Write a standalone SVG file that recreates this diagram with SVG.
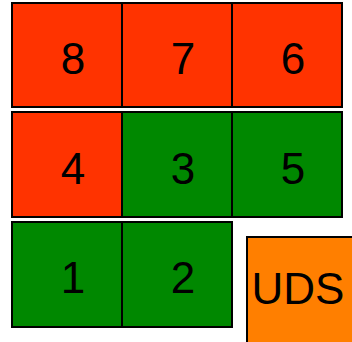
<svg xmlns="http://www.w3.org/2000/svg" width="352" height="342" viewBox="0 0 352 342">
<style>
rect{stroke:#000;stroke-width:2}
.r{fill:#ff3300}
.g{fill:#008800}
.o{fill:#ff7f00}
text{font-family:"Liberation Sans",Arial,sans-serif;font-size:44px;fill:#000;text-anchor:middle}
</style>
<rect width="352" height="342" fill="#fff" style="stroke:none"/>
<g id="n8"><rect class="r" x="12" y="3" width="110" height="104"/><text x="73" y="74">8</text></g>
<g id="n7"><rect class="r" x="122" y="3" width="110" height="104"/><text x="183" y="74">7</text></g>
<g id="n6"><rect class="r" x="232" y="3" width="110" height="104"/><text x="293" y="74">6</text></g>
<g id="n4"><rect class="r" x="12" y="112" width="110" height="105"/><text x="73" y="184">4</text></g>
<g id="n3"><rect class="g" x="122" y="112" width="110" height="105"/><text x="183" y="184">3</text></g>
<g id="n5"><rect class="g" x="232" y="112" width="110" height="105"/><text x="293" y="184">5</text></g>
<g id="n1"><rect class="g" x="12" y="222" width="110" height="105"/><text x="73" y="293">1</text></g>
<g id="n2"><rect class="g" x="122" y="222" width="110" height="105"/><text x="183" y="293">2</text></g>
<g id="uds"><rect class="o" x="247" y="237" width="110" height="110"/><text x="298" y="304">UDS</text></g>
<g id="connectors"/>
</svg>
